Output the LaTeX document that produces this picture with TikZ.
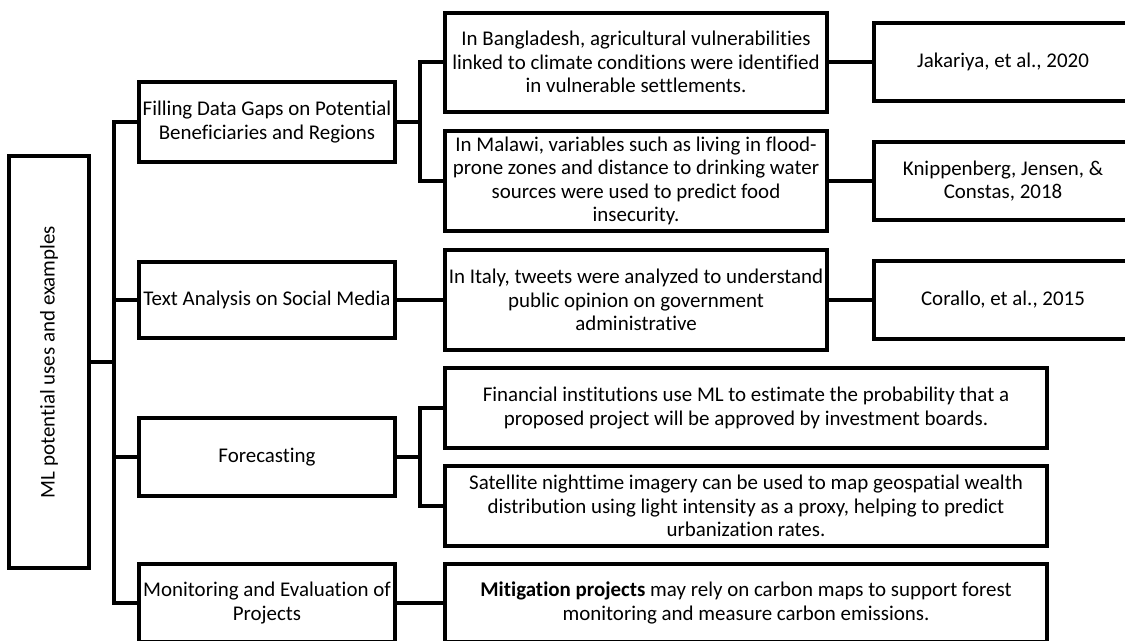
\documentclass[tikz,border=0pt]{standalone}
\usepackage{fontspec}
\setmainfont{Carlito}[RawFeature={-liga;-clig;-dlig;-calt;-rlig}]
\begin{document}
\begin{tikzpicture}[x=0.75pt,y=-0.75pt,
  txt/.style={font=\fontsize{15.7}{17.4}\selectfont},
  box/.style={txt,draw=black,line width=3pt,fill=white,align=center,inner sep=0pt},
  conn/.style={draw=black,line width=3pt}]
\useasboundingbox (0,0) rectangle (1125,640);
\clip (0,0) rectangle (1125,640);
\fill[white] (0,0) rectangle (1125,640);
% root
\node[box,minimum width=80*0.75pt,minimum height=412*0.75pt] (root) at (49,362) {};
\node[txt,rotate=90] (roottext) at (49,362) {ML potential uses and examples};
% level 1
\node[box,minimum width=256*0.75pt,minimum height=80*0.75pt] (f1) at (267,122) {Filling Data Gaps on Potential\\Beneficiaries and Regions};
\node[box,minimum width=256*0.75pt,minimum height=76*0.75pt] (f2) at (267,300) {Text Analysis on Social Media};
\node[box,minimum width=256*0.75pt,minimum height=78*0.75pt] (f3) at (267,457) {Forecasting};
\node[box,minimum width=256*0.75pt,minimum height=78*0.75pt] (f4) at (267,603) {Monitoring and Evaluation of\\Projects};
% level 2
\node[box,minimum width=382*0.75pt,minimum height=99*0.75pt] (b1) at (636,62) {In Bangladesh, agricultural vulnerabilities\\linked to climate conditions were identified\\in vulnerable settlements.};
\node[box,minimum width=382*0.75pt,minimum height=100*0.75pt] (b2) at (636,181) {In Malawi, variables such as living in flood-\\prone zones and distance to drinking water\\sources were used to predict food\\insecurity.};
\node[box,minimum width=382*0.75pt,minimum height=100*0.75pt] (b3) at (636,300) {In Italy, tweets were analyzed to understand\\public opinion on government\\administrative};
\node[box,minimum width=602*0.75pt,minimum height=80*0.75pt] (b4) at (746,408) {Financial institutions use ML to estimate the probability that a\\proposed project will be approved by investment boards.};
\node[box,minimum width=602*0.75pt,minimum height=80*0.75pt] (b5) at (746,506) {Satellite nighttime imagery can be used to map geospatial wealth\\distribution using light intensity as a proxy, helping to predict\\urbanization rates.};
\node[box,minimum width=602*0.75pt,minimum height=78*0.75pt] (b6) at (746,603) {\textbf{Mitigation projects} may rely on carbon maps to support forest\\monitoring and measure carbon emissions.};
% level 3
\node[box,minimum width=258*0.75pt,minimum height=78*0.75pt] (c1) at (1003,62) {Jakariya, et al., 2020};
\node[box,minimum width=258*0.75pt,minimum height=78*0.75pt] (c2) at (1003,181) {Knippenberg, Jensen, \&\\Constas, 2018};
\node[box,minimum width=258*0.75pt,minimum height=78*0.75pt] (c3) at (1003,300) {Corallo, et al., 2015};
% junction coordinates
\coordinate (t) at (114,0);
\coordinate (ba) at (420,0);
% connectors
\draw[conn] (root.east) -- (root.east -| t);
\draw[conn] (f1.west) -- (f1.west -| t) |- (f4.west);
\draw[conn] (f2.west) -- (f2.west -| t);
\draw[conn] (f3.west) -- (f3.west -| t);
\draw[conn] (f1.east) -- (f1.east -| ba);
\draw[conn] (b1.west) -- (b1.west -| ba) |- (b2.west);
\draw[conn] (f3.east) -- (f3.east -| ba);
\draw[conn] (b4.west) -- (b4.west -| ba) |- (b5.west);
\draw[conn] (f2.east) -- (b3.west);
\draw[conn] (f4.east) -- (b6.west);
\draw[conn] (b1.east) -- (c1.west);
\draw[conn] (b2.east) -- (c2.west);
\draw[conn] (b3.east) -- (c3.west);
\end{tikzpicture}
\end{document}
